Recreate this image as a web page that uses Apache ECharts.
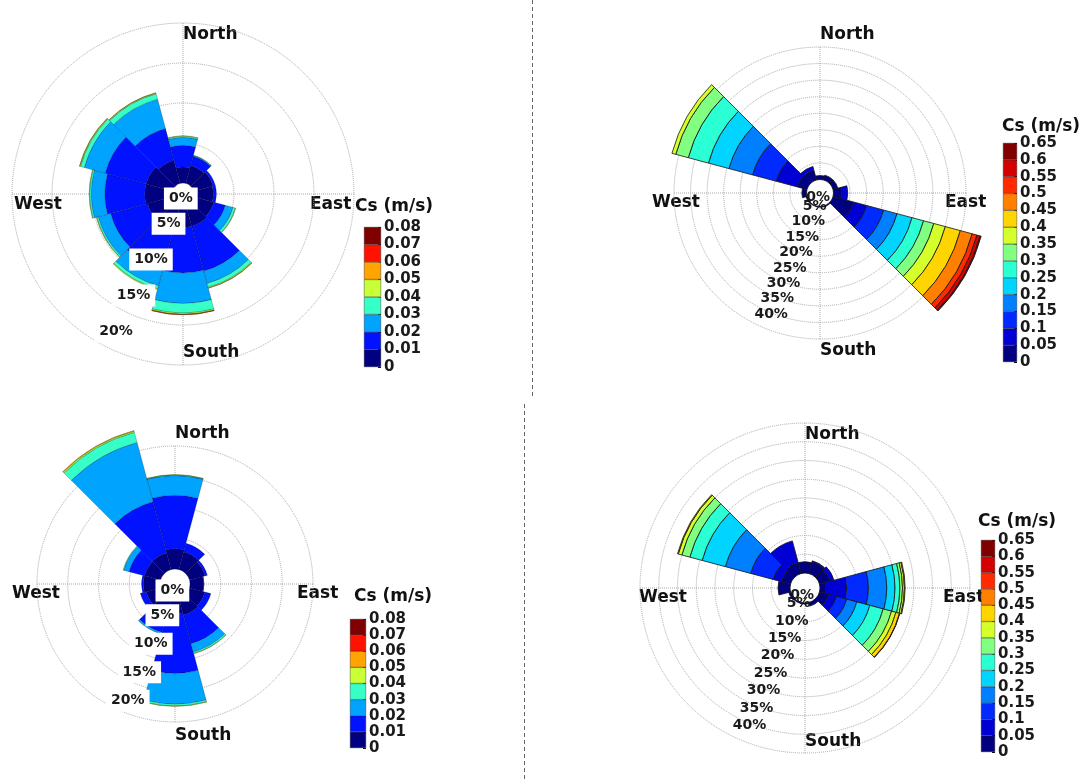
<!DOCTYPE html>
<html>
<head>
<meta charset="utf-8">
<script src="https://cdn.jsdelivr.net/npm/echarts@6/dist/echarts.min.js"></script>
<style>
html, body { margin: 0; padding: 0; background: #fff; }
#main { width: 1091px; height: 781px; }
</style>
</head>
<body>
<div id="main"></div>
<script>
// wind directions (deg from north, clockwise)
var directions = ['0', '30', '60', '90', '120', '150', '180', '210', '240', '270', '300', '330'];

// colour bar ticks (Cs, m/s)
var csTicksLow = ['0', '0.01', '0.02', '0.03', '0.04', '0.05', '0.06', '0.07', '0.08'];
var csTicksHigh = ['0', '0.05', '0.1', '0.15', '0.2', '0.25', '0.3', '0.35', '0.4', '0.45', '0.5', '0.55', '0.6', '0.65'];

// ring ticks (%)
var ringsSmall = [0, 5, 10, 15, 20];
var ringsLarge = [0, 5, 10, 15, 20, 25, 30, 35, 40];

// frequency (%) per direction, one row per Cs bin
var topLeft = [
  [2.0, 2.3, 2.5, 2.4, 2.6, 2.8, 2.8, 3.0, 3.2, 3.4, 3.4, 3.0],
  [2.7, 1.2, 0.3, 0.4, 1.5, 5.8, 5.7, 5.5, 4.8, 5.0, 5.3, 4.1],
  [1.0, 0.1, 0, 0, 1.0, 1.6, 3.8, 2.0, 1.6, 1.7, 2.7, 3.8],
  [0.15, 0.05, 0, 0, 0.3, 0.5, 1.2, 0.4, 0.2, 0.2, 0.5, 0.7],
  [0.05, 0, 0, 0, 0.05, 0.1, 0.15, 0.1, 0.05, 0.05, 0.1, 0.1],
  [0, 0, 0, 0, 0, 0.03, 0.05, 0, 0, 0, 0.03, 0.03],
  [0, 0, 0, 0, 0, 0, 0.02, 0, 0, 0, 0, 0],
  [0, 0, 0, 0, 0, 0, 0, 0, 0, 0, 0, 0]
];

var topRight = [
  [1.2, 1.5, 1.5, 2.5, 6.4, 0.3, 0.2, 0.2, 0.3, 1.4, 3.0, 3.0],
  [0, 0, 0, 1.8, 4.1, 0, 0, 0, 0, 0, 6.6, 1.2],
  [0, 0, 0, 0, 5.3, 0, 0, 0, 0, 0, 7.4, 0],
  [0, 0, 0, 0, 4.2, 0, 0, 0, 0, 0, 7.4, 0],
  [0, 0, 0, 0, 4.7, 0, 0, 0, 0, 0, 6.4, 0],
  [0, 0, 0, 0, 3.6, 0, 0, 0, 0, 0, 6.3, 0],
  [0, 0, 0, 0, 3.2, 0, 0, 0, 0, 0, 3.9, 0],
  [0, 0, 0, 0, 3.6, 0, 0, 0, 0, 0, 1.2, 0],
  [0, 0, 0, 0, 4.7, 0, 0, 0, 0, 0, 0, 0],
  [0, 0, 0, 0, 3.7, 0, 0, 0, 0, 0, 0, 0],
  [0, 0, 0, 0, 1.5, 0, 0, 0, 0, 0, 0, 0],
  [0, 0, 0, 0, 1.0, 0, 0, 0, 0, 0, 0, 0],
  [0, 0, 0, 0, 0.3, 0, 0, 0, 0, 0, 0, 0]
];

var bottomLeft = [
  [3.3, 3.0, 2.6, 2.2, 2.6, 2.8, 2.4, 2.5, 2.4, 2.7, 2.7, 2.8],
  [8.7, 1.4, 0.4, 0.1, 1.0, 4.8, 9.7, 3.2, 1.0, 0.3, 2.6, 8.6],
  [3.2, 0, 0, 0, 0, 1.4, 5.0, 0.3, 0, 0, 0.9, 10.0],
  [0.1, 0, 0, 0, 0, 0.25, 0.3, 0, 0, 0, 0.1, 1.7],
  [0.05, 0, 0, 0, 0, 0.05, 0.05, 0, 0, 0, 0, 0.2],
  [0, 0, 0, 0, 0, 0, 0, 0, 0, 0, 0, 0.1],
  [0, 0, 0, 0, 0, 0, 0, 0, 0, 0, 0, 0],
  [0, 0, 0, 0, 0, 0, 0, 0, 0, 0, 0, 0]
];

var bottomRight = [
  [3.0, 3.2, 2.8, 1.5, 2.5, 1.0, 0.3, 0.3, 0.5, 3.2, 2.5, 3.0],
  [0, 0.3, 1.2, 5.6, 2.2, 0, 0, 0, 0, 0, 2.3, 6.0],
  [0, 0, 0, 5.8, 2.8, 0, 0, 0, 0, 0, 6.2, 0],
  [0, 0, 0, 4.9, 2.8, 0, 0, 0, 0, 0, 7.0, 0],
  [0, 0, 0, 2.2, 3.6, 0, 0, 0, 0, 0, 6.4, 0],
  [0, 0, 0, 1.3, 3.7, 0, 0, 0, 0, 0, 3.4, 0],
  [0, 0, 0, 0.7, 2.3, 0, 0, 0, 0, 0, 2.2, 0],
  [0, 0, 0, 0.5, 1.2, 0, 0, 0, 0, 0, 1.0, 0],
  [0, 0, 0, 0.2, 1.0, 0, 0, 0, 0, 0, 0.2, 0],
  [0, 0, 0, 0, 0.1, 0, 0, 0, 0, 0, 0, 0],
  [0, 0, 0, 0, 0, 0, 0, 0, 0, 0, 0, 0],
  [0, 0, 0, 0, 0, 0, 0, 0, 0, 0, 0, 0],
  [0, 0, 0, 0, 0, 0, 0, 0, 0, 0, 0, 0]
];

// matlab-like jet, sampled once per bin
function jet(n) {
  function c(v) { return Math.round(255 * Math.max(0, Math.min(1, v))); }
  var out = [];
  for (var i = 0; i < n; i++) {
    var t = i / (n - 1);
    out.push('rgb(' + c(1.5 - Math.abs(4 * t - 3)) + ',' + c(1.5 - Math.abs(4 * t - 2)) + ',' + c(1.5 - Math.abs(4 * t - 1)) + ')');
  }
  return out;
}

var FONT = '"DejaVu Sans", "Liberation Sans", sans-serif';

var panels = [
  { bins: topLeft, ticks: csTicksLow, rings: ringsSmall, center: [183, 194], r0: 11, R: 171,
    labelAngle: 206, labelShift: 2.25, centerLabel: -0.75, boxed: true, labelSize: 14,
    border: 0.5, borderColor: 'rgba(0,0,0,0.45)',
    compass: { n: -159, s: 159, w: -121, e: 127, dy: 11 },
    cb: { left: 364, top: 227, width: 17, height: 140 }, cbTitle: [355, 207] },
  { bins: topRight, ticks: csTicksHigh, rings: ringsLarge, center: [820, 193], r0: 13.5, R: 146,
    labelAngle: 202, labelShift: 4.7, centerLabel: -2.6, boxed: false, labelSize: 14,
    border: 0.8, borderColor: '#151515',
    compass: { n: -158, s: 158, w: -120, e: 125, dy: 10 },
    cb: { left: 1003, top: 143, width: 14, height: 219 }, cbTitle: [1002, 127] },
  { bins: bottomLeft, ticks: csTicksLow, rings: ringsSmall, center: [175, 584], r0: 15, R: 138,
    labelAngle: 202, labelShift: 1.95, centerLabel: -1.3, boxed: true, labelSize: 14,
    border: 0.5, borderColor: 'rgba(0,0,0,0.45)',
    compass: { n: -150, s: 152, w: -115, e: 122, dy: 10 },
    cb: { left: 350, top: 619, width: 16, height: 129 }, cbTitle: [354, 597] },
  { bins: bottomRight, ticks: csTicksHigh, rings: ringsLarge, center: [805, 588], r0: 15, R: 165,
    labelAngle: 202, labelShift: 4.5, centerLabel: -2.0, boxed: false, labelSize: 14,
    border: 0.8, borderColor: '#151515',
    compass: { n: -153, s: 154, w: -118, e: 138, dy: 10 },
    cb: { left: 981, top: 540, width: 14, height: 212 }, cbTitle: [978, 522] }
];

var gridLine = { color: '#a8a8a8', type: 'dotted', width: 1 };
var polar = [], angleAxis = [], radiusAxis = [], grid = [], xAxis = [], yAxis = [], series = [], graphic = [];

function text(str, x, y, align, size) {
  return { type: 'text', x: x, y: y, silent: true,
    style: { text: str, font: 'bold ' + size + 'px ' + FONT, fill: '#111',
      align: align, verticalAlign: 'middle', textAlign: align, textVerticalAlign: 'middle' } };
}

panels.forEach(function (p, i) {
  var a = 2 * i, b = 2 * i + 1;
  var colors = jet(p.bins.length);
  var ringMax = p.rings[p.rings.length - 1];

  polar.push({ center: p.center, radius: [p.r0, p.R] }, { center: p.center, radius: [p.r0, p.R] });

  // bars
  angleAxis.push({ polarIndex: a, type: 'category', data: directions, startAngle: 90 + 180 / directions.length,
    clockwise: true, show: false });
  radiusAxis.push({ polarIndex: a, type: 'value', min: 0, max: ringMax, show: false });

  // dotted rings and N-S / E-W lines
  angleAxis.push({ polarIndex: b, type: 'value', min: 0, max: 360, interval: 90, startAngle: 90, clockwise: true,
    axisLine: { show: false }, axisTick: { show: false }, axisLabel: { show: false },
    splitLine: { show: true, lineStyle: gridLine } });
  radiusAxis.push({ polarIndex: b, type: 'value', min: 0, max: ringMax, interval: 5,
    axisLine: { show: false }, axisTick: { show: false }, axisLabel: { show: false },
    splitLine: { show: true, lineStyle: gridLine } });

  p.bins.forEach(function (row, j) {
    series.push({ type: 'bar', coordinateSystem: 'polar', polarIndex: a, stack: 'rose' + i,
      barCategoryGap: '0%', clip: false, silent: true, z: 2,
      data: row.map(function (v) { return v > 0 ? v : null; }),
      itemStyle: { color: colors[j], borderColor: p.borderColor, borderWidth: p.border } });
  });

  // ring labels
  series.push({ type: 'scatter', coordinateSystem: 'polar', polarIndex: b, symbolSize: 0, silent: true,
    clip: false, z: p.boxed ? 10 : 1, itemStyle: { opacity: 1 },
    data: p.rings.map(function (t) {
      return { name: t + '%', value: [t === 0 ? p.centerLabel : t - p.labelShift, p.labelAngle] };
    }),
    label: { show: true, position: 'inside', formatter: '{b}', fontFamily: FONT, fontWeight: 'bold',
      fontSize: p.labelSize, color: '#1a1a1a', opacity: 1,
      backgroundColor: p.boxed ? '#ffffff' : 'transparent', padding: p.boxed ? [4, 5] : 0 } });

  // compass names
  var cx = p.center[0], cy = p.center[1], c = p.compass;
  graphic.push(text('North', cx, cy + c.n, 'left', 17));
  graphic.push(text('South', cx, cy + c.s, 'left', 17));
  graphic.push(text('West', cx + c.w, cy + c.dy, 'right', 17));
  graphic.push(text('East', cx + c.e, cy + c.dy, 'left', 17));

  // colour bar
  var step = parseFloat(p.ticks[1]);
  var ticks = p.ticks;
  grid.push({ left: p.cb.left, top: p.cb.top, width: p.cb.width, height: p.cb.height });
  xAxis.push({ gridIndex: i, type: 'category', data: ['Cs'], show: false });
  yAxis.push({ gridIndex: i, type: 'value', min: 0, max: parseFloat(ticks[ticks.length - 1]), interval: step,
    position: 'right', axisLine: { show: false }, splitLine: { show: false },
    axisTick: { show: true, inside: true, length: 3, lineStyle: { color: '#111' } },
    axisLabel: { margin: 3, fontFamily: FONT, fontWeight: 'bold', fontSize: 15, color: '#1a1a1a',
      formatter: function (v) { return ticks[Math.round(v / step)]; } } });
  colors.forEach(function (col, j) {
    series.push({ type: 'bar', xAxisIndex: i, yAxisIndex: i, stack: 'cb' + i, barWidth: '100%', silent: true,
      data: [parseFloat(ticks[j + 1]) - parseFloat(ticks[j])],
      itemStyle: { color: col, borderColor: '#222', borderWidth: 0.4 } });
  });
  graphic.push(text('Cs (m/s)', p.cbTitle[0], p.cbTitle[1], 'left', 17));
});

// dashed separators between panels
graphic.push({ type: 'line', silent: true, shape: { x1: 532.5, y1: 0, x2: 532.5, y2: 397 },
  style: { stroke: '#666', lineWidth: 1, lineDash: [4, 3] } });
graphic.push({ type: 'line', silent: true, shape: { x1: 524.5, y1: 404, x2: 524.5, y2: 781 },
  style: { stroke: '#666', lineWidth: 1, lineDash: [4, 3] } });

var chart = echarts.init(document.getElementById('main'));
chart.setOption({
  animation: false,
  backgroundColor: '#fff',
  polar: polar,
  angleAxis: angleAxis,
  radiusAxis: radiusAxis,
  grid: grid,
  xAxis: xAxis,
  yAxis: yAxis,
  series: series,
  graphic: graphic
});
</script>
</body>
</html>
